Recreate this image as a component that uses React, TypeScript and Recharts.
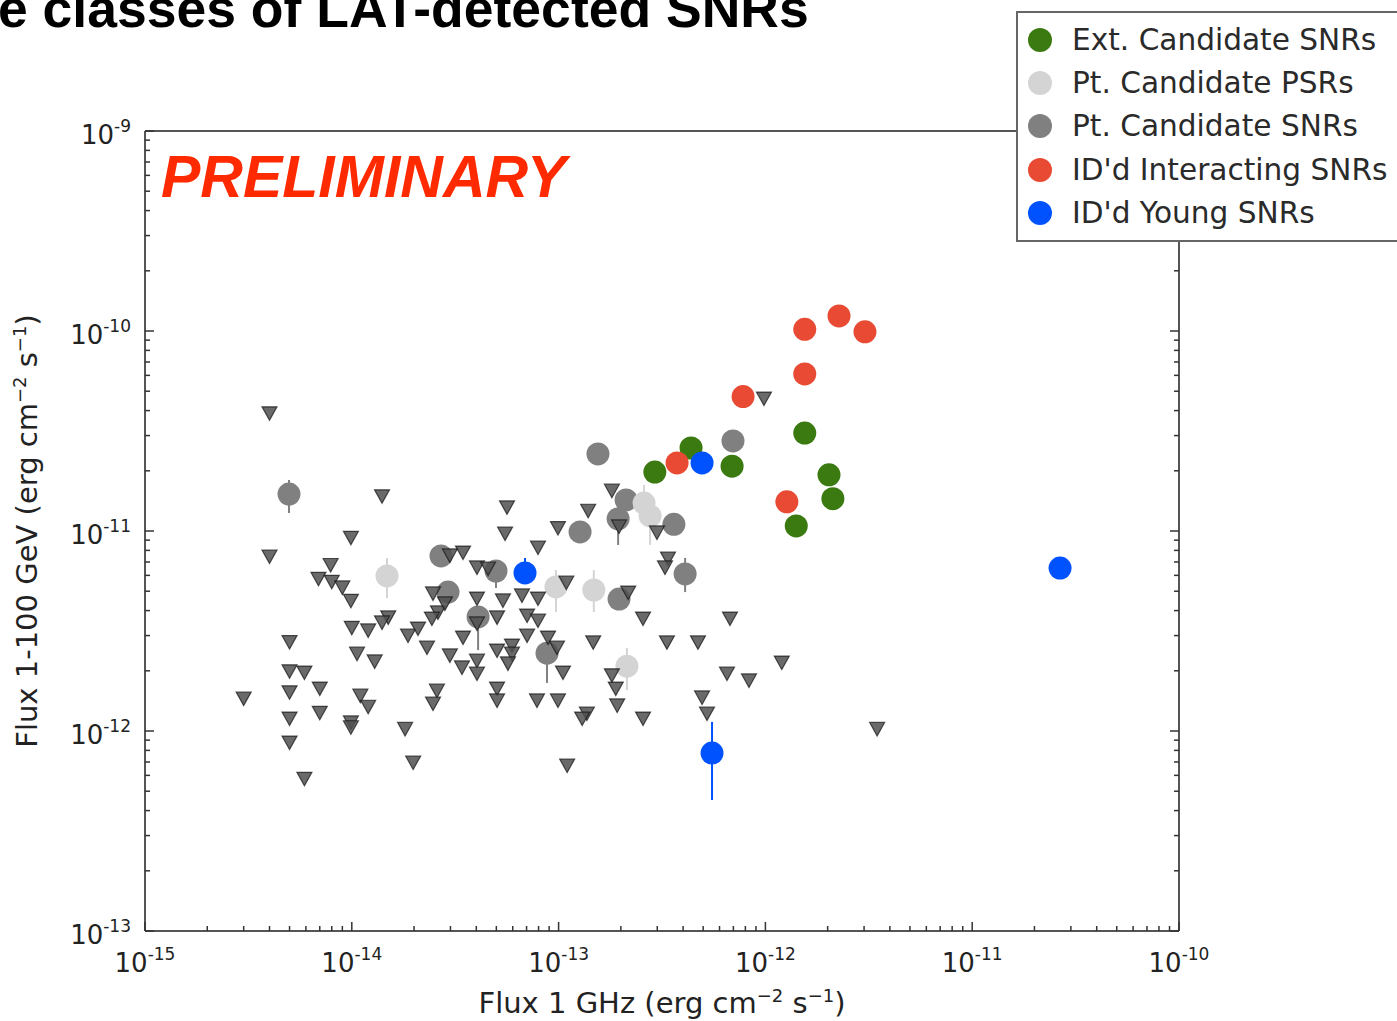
import React from 'react';
import { ScatterChart, Scatter, XAxis, YAxis, ErrorBar, Legend } from 'recharts';

// fluxes in erg cm^-2 s^-1: x = 1 GHz radio, y = 1-100 GeV LAT; lo/hi = error bar ends
type Src = { x: number; y: number; lo?: number; hi?: number };

const extCandidateSNRs: Src[] = [
  { x: 1.55e-12, y: 3.09e-11 },
  { x: 2.03e-12, y: 1.91e-11 },
  { x: 2.12e-12, y: 1.45e-11 },
  { x: 1.41e-12, y: 1.06e-11 },
  { x: 6.9e-13, y: 2.11e-11 },
  { x: 4.37e-13, y: 2.6e-11 },
  { x: 2.92e-13, y: 1.97e-11 },
];

const ptCandidatePSRs: Src[] = [
  { x: 1.48e-14, y: 5.96e-12, lo: 4.62e-12, hi: 7.33e-12 },
  { x: 2.59e-13, y: 1.38e-11, hi: 1.7e-11 },
  { x: 2.77e-13, y: 1.19e-11, lo: 8.51e-12 },
  { x: 9.71e-14, y: 5.25e-12, lo: 3.94e-12, hi: 6.38e-12 },
  { x: 1.48e-13, y: 5.07e-12, lo: 3.94e-12, hi: 6.38e-12 },
  { x: 2.14e-13, y: 2.11e-12, lo: 1.6e-12, hi: 2.6e-12 },
];

const ptCandidateSNRs: Src[] = [
  { x: 4.97e-15, y: 1.53e-11, lo: 1.23e-11, hi: 1.8e-11 },
  { x: 1.55e-13, y: 2.43e-11 },
  { x: 6.97e-13, y: 2.82e-11 },
  { x: 1.27e-13, y: 9.89e-12 },
  { x: 2.12e-13, y: 1.43e-11 },
  { x: 1.94e-13, y: 1.15e-11, lo: 8.51e-12 },
  { x: 3.61e-13, y: 1.08e-11 },
  { x: 4.09e-13, y: 6.1e-12, lo: 4.95e-12, hi: 7.33e-12 },
  { x: 1.96e-13, y: 4.57e-12 },
  { x: 2.7e-14, y: 7.5e-12 },
  { x: 4.98e-14, y: 6.31e-12, lo: 5.19e-12 },
  { x: 2.92e-14, y: 4.95e-12 },
  { x: 4.08e-14, y: 3.72e-12, lo: 2.54e-12 },
  { x: 8.79e-14, y: 2.45e-12, lo: 1.74e-12 },
];

const interactingSNRs: Src[] = [
  { x: 1.55e-12, y: 1.02e-10 },
  { x: 2.27e-12, y: 1.19e-10 },
  { x: 3.03e-12, y: 9.9e-11 },
  { x: 1.55e-12, y: 6.1e-11 },
  { x: 7.8e-13, y: 4.7e-11 },
  { x: 1.27e-12, y: 1.4e-11 },
  { x: 3.74e-13, y: 2.19e-11 },
];

const youngSNRs: Src[] = [
  { x: 4.94e-13, y: 2.19e-11 },
  { x: 6.88e-14, y: 6.17e-12, hi: 7.33e-12 },
  { x: 5.52e-13, y: 7.76e-13, lo: 4.52e-13, hi: 1.11e-12 },
  { x: 2.66e-11, y: 6.53e-12 },
];

// upper limits on the LAT flux
const upperLimits: Src[] = [
  { x: 4.0e-15, y: 3.9e-11 }, { x: 1.4e-14, y: 1.5e-11 }, { x: 9.9e-15, y: 9.3e-12 },
  { x: 4.0e-15, y: 7.5e-12 }, { x: 7.9e-15, y: 6.8e-12 }, { x: 6.9e-15, y: 5.8e-12 },
  { x: 8.0e-15, y: 5.6e-12 }, { x: 9.0e-15, y: 5.25e-12 }, { x: 9.9e-15, y: 4.5e-12 },
  { x: 5.0e-15, y: 2.8e-12 }, { x: 1.0e-14, y: 3.3e-12 }, { x: 1.2e-14, y: 3.2e-12 },
  { x: 1.06e-14, y: 2.45e-12 }, { x: 1.29e-14, y: 2.24e-12 }, { x: 5.0e-15, y: 2.0e-12 },
  { x: 5.9e-15, y: 1.97e-12 }, { x: 7.0e-15, y: 1.64e-12 }, { x: 5.0e-15, y: 1.57e-12 },
  { x: 3.0e-15, y: 1.46e-12 }, { x: 1.1e-14, y: 1.51e-12 }, { x: 1.2e-14, y: 1.33e-12 },
  { x: 7.0e-15, y: 1.24e-12 }, { x: 5.0e-15, y: 1.16e-12 }, { x: 9.9e-15, y: 1.11e-12 },
  { x: 9.9e-15, y: 1.05e-12 }, { x: 1.81e-14, y: 1.03e-12 }, { x: 5.0e-15, y: 8.8e-13 },
  { x: 1.98e-14, y: 7.0e-13 }, { x: 5.9e-15, y: 5.8e-13 }, { x: 1.5e-14, y: 3.72e-12 },
  { x: 1.4e-14, y: 3.51e-12 }, { x: 1.87e-14, y: 3.02e-12 }, { x: 2.09e-14, y: 3.27e-12 },
  { x: 2.31e-14, y: 2.63e-12 }, { x: 2.98e-14, y: 2.4e-12 }, { x: 2.58e-14, y: 1.6e-12 },
  { x: 2.47e-14, y: 1.38e-12 }, { x: 2.47e-14, y: 4.9e-12 }, { x: 2.61e-14, y: 3.94e-12 },
  { x: 2.82e-14, y: 4.37e-12 }, { x: 2.44e-14, y: 3.67e-12 }, { x: 5.63e-14, y: 1.32e-11 },
  { x: 5.51e-14, y: 9.77e-12 }, { x: 9.93e-14, y: 1.04e-11 }, { x: 7.95e-14, y: 8.32e-12 },
  { x: 3.45e-14, y: 7.85e-12 }, { x: 2.98e-14, y: 7.59e-12 }, { x: 4.03e-14, y: 6.61e-12 },
  { x: 4.56e-14, y: 6.53e-12 }, { x: 4.03e-14, y: 4.62e-12 }, { x: 5.38e-14, y: 4.52e-12 },
  { x: 6.65e-14, y: 4.79e-12 }, { x: 7.95e-14, y: 4.62e-12 }, { x: 7.04e-14, y: 3.8e-12 },
  { x: 7.95e-14, y: 3.59e-12 }, { x: 5.04e-14, y: 3.72e-12 }, { x: 4.03e-14, y: 3.47e-12 },
  { x: 3.45e-14, y: 2.95e-12 }, { x: 7.04e-14, y: 3.02e-12 }, { x: 8.89e-14, y: 2.95e-12 },
  { x: 5.04e-14, y: 2.54e-12 }, { x: 5.95e-14, y: 2.69e-12 }, { x: 5.95e-14, y: 2.45e-12 },
  { x: 3.41e-14, y: 2.09e-12 }, { x: 4.03e-14, y: 2.26e-12 }, { x: 4.03e-14, y: 1.95e-12 },
  { x: 5.69e-14, y: 2.19e-12 }, { x: 9.82e-14, y: 2.63e-12 }, { x: 1.05e-13, y: 1.97e-12 },
  { x: 5.04e-14, y: 1.64e-12 }, { x: 5.04e-14, y: 1.43e-12 }, { x: 7.86e-14, y: 1.43e-12 },
  { x: 9.93e-14, y: 1.43e-12 }, { x: 1.81e-13, y: 1.6e-11 }, { x: 1.39e-13, y: 1.27e-11 },
  { x: 1.96e-13, y: 1.06e-11 }, { x: 2.99e-13, y: 9.89e-12 }, { x: 3.38e-13, y: 7.33e-12 },
  { x: 3.27e-13, y: 6.61e-12 }, { x: 1.09e-13, y: 5.56e-12 }, { x: 2.17e-13, y: 4.95e-12 },
  { x: 2.56e-13, y: 3.67e-12 }, { x: 6.74e-13, y: 3.67e-12 }, { x: 1.47e-13, y: 2.79e-12 },
  { x: 3.34e-13, y: 2.79e-12 }, { x: 4.72e-13, y: 2.79e-12 }, { x: 1.81e-13, y: 1.91e-12 },
  { x: 1.89e-13, y: 1.64e-12 }, { x: 1.92e-13, y: 1.35e-12 }, { x: 6.52e-13, y: 1.95e-12 },
  { x: 1.37e-13, y: 1.23e-12 }, { x: 1.3e-13, y: 1.16e-12 }, { x: 2.56e-13, y: 1.16e-12 },
  { x: 4.94e-13, y: 1.48e-12 }, { x: 5.22e-13, y: 1.23e-12 }, { x: 1.1e-13, y: 6.76e-13 },
  { x: 1.2e-12, y: 2.21e-12 }, { x: 8.33e-13, y: 1.8e-12 }, { x: 3.47e-12, y: 1.03e-12 },
  { x: 9.84e-13, y: 4.62e-11 },
];

const X_DECADES = [-15, -14, -13, -12, -11, -10];
const Y_DECADES = [-13, -12, -11, -10, -9];

const LEGEND_ORDER = [
  'Ext. Candidate SNRs',
  'Pt. Candidate PSRs',
  'Pt. Candidate SNRs',
  "ID'd Interacting SNRs",
  "ID'd Young SNRs",
];

const COLORS = {
  ext: '#3b7a10',
  psr: '#d4d4d4',
  snr: '#808080',
  inter: '#e84a33',
  young: '#0052ff',
};

const FONT = '"DejaVu Sans", sans-serif';

// decade ticks plus 2..9 minor ticks in between
const logTicks = (decades: number[]) => {
  const out: number[] = [];
  decades.forEach((d, i) => {
    if (i === decades.length - 1) {
      out.push(Math.pow(10, d));
      return;
    }
    for (let k = 1; k <= 9; k++) out.push(parseFloat((k * Math.pow(10, d)).toPrecision(3)));
  });
  return out;
};

const xTicks = logTicks(X_DECADES);
const yTicks = logTicks(Y_DECADES);
const xDomain = [Math.pow(10, X_DECADES[0]), Math.pow(10, X_DECADES[X_DECADES.length - 1])];
const yDomain = [Math.pow(10, Y_DECADES[0]), Math.pow(10, Y_DECADES[Y_DECADES.length - 1])];

const toRows = (pts: Src[]) =>
  pts.map((p) => ({
    x: p.x,
    y: p.y,
    err: [p.lo != null ? p.y - p.lo : 0, p.hi != null ? p.hi - p.y : 0],
  }));

const exponent = (v: number) => Math.round(Math.log10(v));
const isDecade = (v: number) => Math.abs(Math.log10(v) - exponent(v)) < 1e-6;

function AxisTick(props: any) {
  const { x, y, payload, side, showLabel } = props;
  const v = payload.value;
  const major = isDecade(v);
  const len = major ? 9 : 5;
  let l = { x1: x, y1: y, x2: x, y2: y };
  if (side === 'bottom') l = { x1: x, y1: y, x2: x, y2: y - len };
  if (side === 'top') l = { x1: x, y1: y, x2: x, y2: y + len };
  if (side === 'left') l = { x1: x, y1: y, x2: x + len, y2: y };
  if (side === 'right') l = { x1: x, y1: y, x2: x - len, y2: y };

  let label = null;
  if (showLabel && major) {
    const exp = `${exponent(v)}`;
    const sup = <tspan dy={-12} fontSize={17}>{exp}</tspan>;
    label =
      side === 'bottom' ? (
        <text x={x} y={y + 41} textAnchor="middle" fontFamily={FONT} fontSize={26} fill="#222">
          10{sup}
        </text>
      ) : (
        <text x={x - 14} y={y + 13} textAnchor="end" fontFamily={FONT} fontSize={26} fill="#222">
          10{sup}
        </text>
      );
  }
  return (
    <g>
      <line {...l} stroke="#333" strokeWidth={1.5} />
      {label}
    </g>
  );
}

function XTitle(props: any) {
  const { viewBox } = props;
  const cx = viewBox.x + viewBox.width / 2;
  return (
    <text x={cx} y={1013} textAnchor="middle" fontFamily={FONT} fontSize={29} fill="#222">
      Flux 1 GHz (erg cm<tspan dy={-11} fontSize={18}>−2</tspan>
      <tspan dy={11}> s</tspan>
      <tspan dy={-11} fontSize={18}>−1</tspan>
      <tspan dy={11}>)</tspan>
    </text>
  );
}

function YTitle(props: any) {
  const { viewBox } = props;
  const cy = viewBox.y + viewBox.height / 2;
  return (
    <text
      x={37}
      y={cy}
      transform={`rotate(-90 37 ${cy})`}
      textAnchor="middle"
      fontFamily={FONT}
      fontSize={29}
      fill="#222"
    >
      Flux 1-100 GeV (erg cm<tspan dy={-11} fontSize={18}>−2</tspan>
      <tspan dy={11}> s</tspan>
      <tspan dy={-11} fontSize={18}>−1</tspan>
      <tspan dy={11}>)</tspan>
    </text>
  );
}

const dot = (color: string) => (p: any) => <circle cx={p.cx} cy={p.cy} r={11.5} fill={color} />;

const triangleDown = (p: any) => (
  <path
    d={`M${p.cx - 7.5},${p.cy - 6} L${p.cx + 7.5},${p.cy - 6} L${p.cx},${p.cy + 7.5} Z`}
    fill="#505050"
    fillOpacity={0.85}
    stroke="#111"
    strokeOpacity={0.7}
    strokeWidth={1.2}
  />
);

function LegendBox(props: any) {
  const payload: any[] = props.payload || [];
  const items = LEGEND_ORDER.map((n) => payload.find((p) => p.value === n)).filter(Boolean);
  return (
    <div
      style={{
        boxSizing: 'border-box',
        width: 381,
        height: 231,
        border: '2px solid #666',
        borderRight: 'none',
        background: '#fff',
        padding: '5px 0 0 10px',
        fontFamily: FONT,
        fontSize: 29.6,
        color: '#2a2a2a',
      }}
    >
      {items.map((it: any) => (
        <div key={it.value} style={{ display: 'flex', alignItems: 'center', height: 43.3, whiteSpace: 'nowrap' }}>
          <span
            style={{
              display: 'inline-block',
              width: 24,
              height: 24,
              borderRadius: 12,
              background: it.color,
              marginRight: 20,
              flex: 'none',
            }}
          />
          {it.value}
        </div>
      ))}
    </div>
  );
}

export default function App() {
  const axisLine = { stroke: '#555', strokeWidth: 2 };
  return (
    <div style={{ position: 'absolute', left: 0, top: 0, width: 1397, height: 1021, background: '#fff' }}>
      <ScatterChart width={1397} height={1021} margin={{ top: 121, right: 208, bottom: 30, left: 65 }}>
        <XAxis
          dataKey="x"
          type="number"
          scale="log"
          domain={xDomain}
          allowDataOverflow
          ticks={xTicks}
          interval={0}
          height={60}
          tickSize={0}
          tickMargin={0}
          tickLine={false}
          axisLine={axisLine}
          tick={(p: any) => <AxisTick {...p} side="bottom" showLabel />}
          label={<XTitle />}
        />
        <XAxis
          xAxisId="top"
          orientation="top"
          type="number"
          scale="log"
          domain={xDomain}
          allowDataOverflow
          ticks={xTicks}
          interval={0}
          height={10}
          tickSize={0}
          tickMargin={0}
          tickLine={false}
          axisLine={axisLine}
          tick={(p: any) => <AxisTick {...p} side="top" />}
        />
        <YAxis
          dataKey="y"
          type="number"
          scale="log"
          domain={yDomain}
          allowDataOverflow
          ticks={yTicks}
          interval={0}
          width={80}
          tickSize={0}
          tickMargin={0}
          tickLine={false}
          axisLine={axisLine}
          tick={(p: any) => <AxisTick {...p} side="left" showLabel />}
          label={<YTitle />}
        />
        <YAxis
          yAxisId="right"
          orientation="right"
          type="number"
          scale="log"
          domain={yDomain}
          allowDataOverflow
          ticks={yTicks}
          interval={0}
          width={10}
          tickSize={0}
          tickMargin={0}
          tickLine={false}
          axisLine={axisLine}
          tick={(p: any) => <AxisTick {...p} side="right" />}
        />

        <Scatter name="Pt. Candidate SNRs" data={toRows(ptCandidateSNRs)} fill={COLORS.snr} shape={dot(COLORS.snr)} isAnimationActive={false}>
          <ErrorBar dataKey="err" direction="y" width={0} stroke={COLORS.snr} strokeWidth={2} />
        </Scatter>
        <Scatter name="Pt. Candidate PSRs" data={toRows(ptCandidatePSRs)} fill={COLORS.psr} shape={dot(COLORS.psr)} isAnimationActive={false}>
          <ErrorBar dataKey="err" direction="y" width={0} stroke={COLORS.psr} strokeWidth={2} />
        </Scatter>
        <Scatter name="Upper limits" legendType="none" data={toRows(upperLimits)} fill="#505050" shape={triangleDown} isAnimationActive={false} />
        <Scatter name="Ext. Candidate SNRs" data={toRows(extCandidateSNRs)} fill={COLORS.ext} shape={dot(COLORS.ext)} isAnimationActive={false} />
        <Scatter name="ID'd Interacting SNRs" data={toRows(interactingSNRs)} fill={COLORS.inter} shape={dot(COLORS.inter)} isAnimationActive={false} />
        <Scatter name="ID'd Young SNRs" data={toRows(youngSNRs)} fill={COLORS.young} shape={dot(COLORS.young)} isAnimationActive={false}>
          <ErrorBar dataKey="err" direction="y" width={0} stroke={COLORS.young} strokeWidth={2} />
        </Scatter>

        <Legend
          layout="vertical"
          align="center"
          verticalAlign="middle"
          content={<LegendBox />}
          wrapperStyle={{ position: 'absolute', left: 1016, top: 11, width: 381, height: 231 }}
        />
      </ScatterChart>

      <svg
        width={1397}
        height={220}
        style={{ position: 'absolute', left: 0, top: 0, pointerEvents: 'none' }}
      >
        <text x={-2} y={27} fontFamily='"Liberation Sans", Arial, sans-serif' fontWeight="bold" fontSize={53.5} fill="#000">
          e classes of LAT-detected SNRs
        </text>
        <text
          x={161}
          y={197}
          fontFamily='"Liberation Sans", Arial, sans-serif'
          fontWeight="bold"
          fontStyle="italic"
          fontSize={59}
          fill="#ff2a00"
        >
          PRELIMINARY
        </text>
      </svg>
    </div>
  );
}
